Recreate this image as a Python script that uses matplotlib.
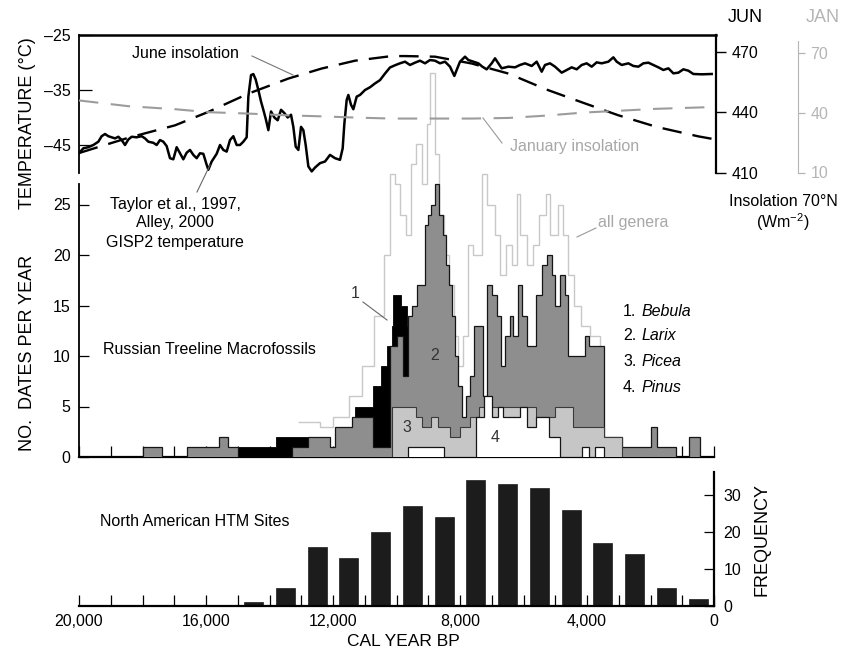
import numpy as np
import matplotlib
matplotlib.use("Agg")
import matplotlib.pyplot as plt
from matplotlib.lines import Line2D

plt.rcParams['font.family'] = ['Liberation Sans', 'DejaVu Sans']
plt.rcParams['mathtext.fontset'] = 'custom'
plt.rcParams['mathtext.rm'] = 'Liberation Sans'
plt.rcParams['mathtext.default'] = 'regular'
plt.rcParams['lines.scale_dashes'] = False

# ---------------- data ----------------
# GISP2 temperature (age in cal yr BP, deg C)
temp_age = [20000, 19864, 19706, 19549, 19391, 19286, 19181, 19076, 18971, 18866,
            18761, 18656, 18551, 18446, 18341, 18184, 18026, 17921, 17816, 17659,
            17554, 17449, 17344, 17239, 17134, 17029, 16924, 16819, 16714, 16609,
            16504, 16399, 16294, 16189, 16084, 15979, 15926, 15821, 15664, 15559,
            15454, 15349, 15244, 15139, 15034, 14929, 14824, 14719, 14666, 14582,
            14509, 14435, 14351, 14267, 14194, 14120, 14036, 13952, 13847, 13742,
            13637, 13532, 13427, 13322, 13249, 13175, 13091, 13007, 12934, 12860,
            12776, 12671, 12566, 12409, 12251, 12094, 11936, 11779, 11695, 11642,
            11569, 11516, 11432, 11359, 11254, 11149, 10991, 10834, 10676, 10519,
            10361, 10204, 10046, 9890, 9732, 9575, 9417, 9260, 9102, 8945,
            8787, 8630, 8472, 8315, 8178, 8105, 8000, 7842, 7737, 7580,
            7422, 7296, 7160, 7002, 6897, 6792, 6687, 6477, 6267, 6110,
            5952, 5742, 5585, 5427, 5322, 5165, 5007, 4797, 4640, 4482,
            4325, 4167, 4010, 3852, 3695, 3537, 3327, 3170, 3065, 2907,
            2697, 2540, 2382, 2225, 2067, 1910, 1752, 1595, 1437, 1280,
            1122, 965, 807, 650, 387, 72]
temp_c = [-46.5, -45.6, -45.4, -45.0, -44.4, -43.4, -43.0, -43.4, -43.6, -43.8,
          -43.5, -44.1, -45.0, -44.0, -43.5, -43.6, -43.4, -43.8, -44.4, -44.6,
          -45.0, -44.1, -44.4, -45.2, -47.4, -47.6, -45.4, -46.5, -47.6, -46.4,
          -45.9, -46.8, -47.4, -46.5, -46.6, -48.6, -49.5, -48.0, -46.6, -45.0,
          -45.9, -46.2, -44.1, -43.4, -45.0, -45.0, -44.4, -43.6, -36.2, -32.3,
          -32.1, -33.1, -35.0, -37.1, -38.6, -40.2, -42.3, -38.9, -40.0, -40.5,
          -38.6, -39.2, -40.0, -39.5, -41.7, -45.3, -45.9, -41.7, -42.3, -45.0,
          -48.9, -49.8, -49.1, -48.3, -48.0, -46.8, -47.4, -47.7, -45.6, -41.1,
          -36.8, -35.9, -37.7, -38.5, -36.2, -35.9, -35.0, -34.5, -33.8, -33.2,
          -32.0, -30.9, -30.5, -30.15, -29.85, -30.45, -30.03, -29.67, -30.15, -29.55,
          -29.67, -30.15, -29.85, -30.76, -32.45, -31.36, -29.85, -28.94, -29.55, -29.85,
          -30.15, -30.76, -31.24, -30.15, -29.24, -30.15, -31.06, -30.76, -30.88, -30.45,
          -30.15, -30.63, -29.85, -31.67, -30.45, -30.15, -30.76, -31.85, -31.36, -30.88,
          -31.24, -30.45, -30.15, -30.76, -29.97, -30.15, -29.85, -29.06, -29.85, -30.45,
          -30.15, -30.63, -30.76, -30.15, -30.03, -30.45, -30.88, -31.36, -31.06, -31.97,
          -31.85, -31.24, -31.49, -32.09, -32.15, -32.09]

# Insolation at 70 N (W m-2)
jun_age = [20000, 18446, 16976, 15926, 14666, 13406, 12356, 11306, 10151, 9732,
           8787, 7632, 6477, 5270, 4115, 3012, 1805, 492, 0]
jun_ins = [419.7, 427.3, 433.5, 440.2, 449.3, 456.8, 461.8, 465.7, 468.0, 468.0,
           467.7, 464.3, 459.3, 451.3, 444.7, 438.5, 432.7, 428.0, 426.6]
jan_age = [20000, 18440, 16976, 15926, 14666, 13406, 12356, 11306, 10151, 8787,
           7632, 6477, 5270, 4115, 3012, 1805, 0]
jan_ins = [46.2, 43.3, 41.8, 40.3, 39.6, 38.7, 38.2, 37.6, 37.1, 37.1,
           37.1, 37.4, 38.6, 40.1, 41.0, 42.0, 42.9]

# Russian treeline macrofossil dates per year (bin edges in cal yr BP, values per bin)
all_edges = [13100, 12400, 12000, 11500, 11100, 10700, 10400, 10200, 10050, 9900,
             9700, 9550, 9400, 9200, 9050, 8950, 8800, 8650, 8500, 8350,
             8200, 8050, 7900, 7750, 7600, 7300, 7150, 6900, 6750, 6550,
             6350, 6200, 6100, 5900, 5700, 5500, 5300, 5150, 4900, 4750,
             4600, 4400, 4200, 3900, 3600, 3450]
all_vals = [3.5, 3, 4, 6, 9, 14, 20, 28, 27, 24,
            22, 29, 31, 27, 33, 38, 30, 24, 20, 17,
            12, 9, 12, 21, 20, 28, 25, 22, 18, 21,
            19, 26, 22, 19, 21, 24, 26, 22, 25, 22,
            18, 15, 13, 12, 8]

betula_edges = [15000, 13800, 12800, 11300, 10750, 10500, 10300, 10150, 10100, 9870, 9660, 9470]
betula_vals = [1, 2, 0, 5, 7, 9, 11, 13, 16, 15, 13]

larix_edges = [18000, 17400, 16600, 15600, 15300, 15000, 13300, 12800, 12100, 11950,
               11400, 11100, 10750, 10200, 10000, 9800, 9650, 9500, 9350, 9100,
               9000, 8900, 8800, 8650, 8550, 8450, 8350, 8250, 8150, 8050,
               7950, 7800, 7700, 7550, 7270, 7160, 7000, 6850, 6700, 6580,
               6430, 6320, 6160, 6060, 5900, 5600, 5430, 5270, 5110, 5000,
               4850, 4700, 4600, 4050, 3950, 3450, 2900, 2000, 1800, 1500,
               1200, 800, 450]
larix_vals = [1, 0, 1, 2, 1, 0, 1, 2, 1, 3,
              4, 4, 1, 11, 12, 8, 14, 15, 17, 23,
              24, 25, 27, 24, 22, 19, 17, 14, 10, 7,
              4, 6, 8, 13, 6, 17, 16, 14, 9, 12,
              14, 12, 17, 14, 11, 16, 19, 20, 18, 15,
              18, 16, 10, 12, 11, 2, 1, 3, 1, 1,
              0, 2]

picea_edges = [10150, 9400, 9200, 8900, 8700, 8300, 8000, 7700, 7400, 5600,
               5000, 4450, 3900, 3450, 2900]
picea_vals = [5, 4, 3, 4, 3, 2, 3, 4, 5, 4, 5, 3, 3, 2]

pinus_edges = [9650, 8950, 8500, 7500, 7250, 7000, 6800, 6650, 6100, 5900,
               5600, 5200, 4850, 4150, 3950, 3750, 3450]
pinus_vals = [1, 1, 0, 4, 6, 4, 5, 4, 5, 3, 4, 2, 0, 1, 0, 1]

# North American HTM sites per 1000-yr bin
htm_age = [14500, 13500, 12500, 11500, 10500, 9500, 8500, 7500,
           6500, 5500, 4500, 3500, 2500, 1500, 500]
htm_freq = [1, 5, 16, 13, 20, 27, 24, 34, 33, 32, 26, 17, 14, 5, 2]

# ---------------- figure ----------------
W, H = 842, 656
fig = plt.figure(figsize=(W / 100, H / 100), dpi=100)
fig.patch.set_facecolor('white')


def fx(x):
    return x / W


def fy(y):
    return 1 - y / H


def ftext(x, y, s, **kw):
    fig.text(fx(x), fy(y), s, transform=fig.transFigure, **kw)


def fline(x0, y0, x1, y1, **kw):
    fig.add_artist(Line2D([fx(x0), fx(x1)], [fy(y0), fy(y1)],
                          transform=fig.transFigure, **kw))


FS = 11.5

# middle panel: macrofossil dates
ax_mid = fig.add_axes([fx(79), fy(457), 635 / W, (457 - 35) / H])
ax_mid.patch.set_visible(False)
ax_mid.set_xlim(20000, 0)
ax_mid.set_ylim(0, 422 / 10.1)
for s in ('top', 'right'):
    ax_mid.spines[s].set_visible(False)
ax_mid.spines['left'].set_bounds(0, 27)
ax_mid.spines['left'].set_linewidth(1.3)
ax_mid.spines['bottom'].set_linewidth(1.6)
ax_mid.set_yticks([0, 5, 10, 15, 20, 25])
ax_mid.set_xticks(np.arange(0, 20001, 1000))
ax_mid.set_xticklabels([])
ax_mid.tick_params(axis='x', direction='in', length=8, width=0.9)
ax_mid.tick_params(axis='y', direction='in', length=7, width=0.9, labelsize=FS, pad=6)


def steps(ax, edges, vals, **kw):
    e = np.asarray(edges, float)[::-1]
    v = np.asarray(vals, float)[::-1]
    return ax.stairs(v, e, **kw)


steps(ax_mid, all_edges, all_vals, fill=False, color='#c8c8c8', lw=1.0,
      baseline=None, zorder=1)
steps(ax_mid, betula_edges, betula_vals, fill=True, facecolor='black',
      edgecolor='black', lw=0.6, zorder=2)
steps(ax_mid, larix_edges, larix_vals, fill=True, facecolor='#8e8e8e',
      edgecolor='#151515', lw=0.9, zorder=3)
steps(ax_mid, picea_edges, picea_vals, fill=True, facecolor='#c6c6c6',
      edgecolor='#3a3a3a', lw=0.8, zorder=4)
steps(ax_mid, pinus_edges, pinus_vals, fill=True, facecolor='white',
      edgecolor='#151515', lw=0.9, zorder=5)

# top panel: temperature and insolation
ax_top = fig.add_axes([fx(79), fy(172.5), (716 - 79) / W, (172.5 - 35) / H])
ax_top.patch.set_visible(False)
ax_top.set_xlim(20000, 20000 - (716 - 79) / 0.03175)
ax_top.set_ylim(-50, -25)
ax_top.spines['bottom'].set_visible(False)
ax_top.spines['right'].set_visible(False)
ax_top.spines['top'].set_linewidth(1.8)
ax_top.spines['left'].set_linewidth(1.3)
ax_top.set_xticks([])
ax_top.set_yticks([-25, -35, -45])
ax_top.set_yticklabels(['\u201325', '\u201335', '\u201345'])
ax_top.tick_params(axis='y', direction='in', length=9, width=0.9, labelsize=FS, pad=6)
ax_top.plot(temp_age, temp_c, color='black', lw=1.8, zorder=4)

ax_jun = ax_top.twinx()
ax_jun.set_ylim(410, 478.5)
ax_jun.set_xlim(ax_top.get_xlim())
for s in ('top', 'bottom', 'left'):
    ax_jun.spines[s].set_visible(False)
ax_jun.spines['right'].set_linewidth(1.6)
ax_jun.set_yticks([410, 440, 470])
ax_jun.tick_params(axis='y', direction='out', length=7, width=1.0, labelsize=FS, pad=4)
ax_jun.plot(jun_age, jun_ins, color='black', lw=1.7, dashes=(14, 8), zorder=3)

ax_jan = ax_top.twinx()
ax_jan.set_ylim(10, 10 + 137 * 60 / 119)
ax_jan.set_xlim(ax_top.get_xlim())
for s in ('top', 'bottom', 'left'):
    ax_jan.spines[s].set_visible(False)
ax_jan.spines['right'].set_position(('outward', 59))
ax_jan.spines['right'].set_bounds(10, 76)
ax_jan.spines['right'].set_color('#b5b5b5')
ax_jan.set_yticks([10, 40, 70])
ax_jan.tick_params(axis='y', direction='out', length=5, width=0.9, labelsize=FS,
                   colors='#b5b5b5', pad=4)
ax_jan.plot(jan_age, jan_ins, color='#9c9c9c', lw=1.5, dashes=(14, 9), zorder=2)

# bottom panel: North American HTM sites
ax_bot = fig.add_axes([fx(79), fy(606), 635 / W, 134 / H])
ax_bot.patch.set_visible(False)
ax_bot.set_xlim(20000, 0)
ax_bot.set_ylim(0, 134 / 3.7)
for s in ('top', 'left'):
    ax_bot.spines[s].set_visible(False)
ax_bot.spines['bottom'].set_linewidth(1.6)
ax_bot.spines['right'].set_linewidth(1.6)
ax_bot.bar(htm_age, htm_freq, width=600, color='#1c1c1c', edgecolor='#1c1c1c', lw=0.5)
ax_bot.yaxis.tick_right()
ax_bot.set_yticks([0, 10, 20, 30])
ax_bot.tick_params(axis='y', direction='in', length=7, width=0.9, labelsize=FS, pad=7)
xt = np.arange(0, 20001, 1000)
ax_bot.set_xticks(xt)
ax_bot.set_xticklabels([f'{v:,}' if v % 4000 == 0 else '' for v in xt])
ax_bot.tick_params(axis='x', direction='in', length=8, width=0.9, labelsize=FS, pad=6)

# axis titles
ftext(27, 123, 'TEMPERATURE (\u00b0C)', rotation=90, ha='center', va='center', fontsize=13)
ftext(27, 353, 'NO.  DATES PER YEAR', rotation=90, ha='center', va='center', fontsize=13)
ftext(762, 540, 'FREQUENCY', rotation=90, ha='center', va='center', fontsize=13)
ftext(403, 641, 'CAL YEAR BP', ha='center', va='center', fontsize=12.5)
ftext(745, 18, 'JUN', ha='center', va='center', fontsize=13)
ftext(840, 18, 'JAN', ha='right', va='center', fontsize=13, color='#b5b5b5')
ftext(783, 202, 'Insolation 70\u00b0N', ha='center', va='center', fontsize=FS)
ftext(783, 222, '(Wm$^{-2}$)', ha='center', va='center', fontsize=FS)

# annotations
ftext(132, 53, 'June insolation', ha='left', va='center', fontsize=FS)
fline(252, 56, 293, 75, color='#777777', lw=0.8)
ftext(510, 147, 'January insolation', ha='left', va='center', fontsize=FS, color='#a8a8a8')
fline(483, 118, 502, 143, color='#999999', lw=0.8)
ftext(175, 204, 'Taylor et al., 1997,', ha='center', va='center', fontsize=FS)
ftext(175, 223, 'Alley, 2000', ha='center', va='center', fontsize=FS)
ftext(175, 243, 'GISP2 temperature', ha='center', va='center', fontsize=FS)
fline(197, 192, 210, 165, color='#666666', lw=0.8)
ftext(103, 350, 'Russian Treeline Macrofossils', ha='left', va='center', fontsize=FS)
ftext(100, 521, 'North American HTM Sites', ha='left', va='center', fontsize=FS)
ftext(598, 222, 'all genera', ha='left', va='center', fontsize=FS, color='#a8a8a8')
fline(577, 237, 596, 228, color='#999999', lw=0.8)
ftext(355, 293, '1', ha='center', va='center', fontsize=FS, color='#333333')
fline(363, 302, 387, 320, color='#666666', lw=0.8)
ftext(435, 355, '2', ha='center', va='center', fontsize=FS, color='#333333')
ftext(407, 428, '3', ha='center', va='center', fontsize=FS, color='#333333')
ftext(495, 437, '4', ha='center', va='center', fontsize=FS, color='#333333')

legend_nums = ['1.', '2.', '3.', '4.']
legend_names = ['Bebula', 'Larix', 'Picea', 'Pinus']
legend_y = [312, 336, 361, 387]
for n, name, y in zip(legend_nums, legend_names, legend_y):
    ftext(623, y, n, ha='left', va='center', fontsize=FS)
    ftext(642, y, name, ha='left', va='center', fontsize=FS, style='italic')

fig.savefig('out.png', dpi=100)
